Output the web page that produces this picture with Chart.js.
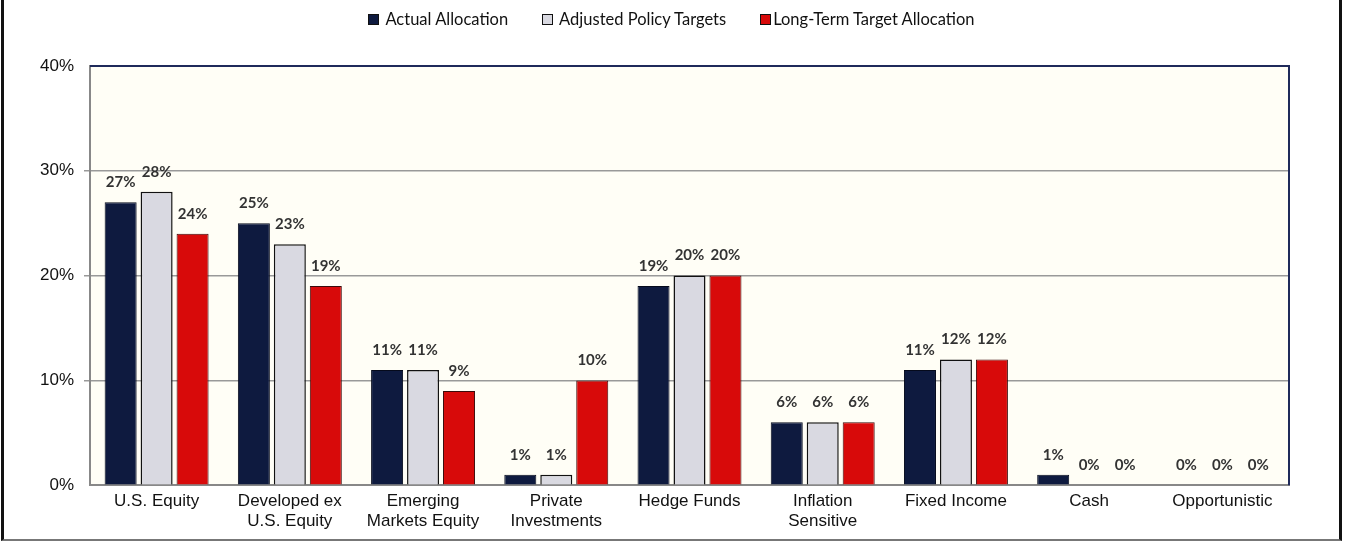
<!DOCTYPE html>
<html>
<head>
<meta charset="utf-8">
<script src="https://cdn.jsdelivr.net/npm/chart.js@4.4.1/dist/chart.umd.min.js"></script>
<style>
  html, body { margin: 0; padding: 0; background: #fff; }
  #frame {
    position: absolute; left: 1px; top: 0; width: 1335px; height: 539px;
    border-left: 3px solid #111; border-right: 3px solid #111; border-bottom: 2px solid #777;
  }
  #wrap { position: absolute; left: 0; top: 0; width: 1335px; height: 539px; }
  #legend {
    position: absolute; left: 0; top: 9px; width: 1335px; text-align: center;
    font: 16.5px Lato, "Open Sans", sans-serif; color: #111; z-index: 2;
  }
  #legend span.item { display: inline-block; margin: 0 17px; line-height: 20px; }
  #legend span.box {
    display: inline-block; width: 9px; height: 9px; margin-right: 6px; vertical-align: 0px;
    border: 1.5px solid #111;
  }
  #legend span.item:last-child span.box { margin-right: 2px; }
</style>
</head>
<body>
<div id="frame">
  <div id="legend"></div>
  <div id="wrap"><canvas id="allocChart"></canvas></div>
</div>
<script>
const categories = [
  'U.S. Equity', ['Developed ex', 'U.S. Equity'], ['Emerging', 'Markets Equity'],
  ['Private', 'Investments'], 'Hedge Funds', ['Inflation', 'Sensitive'],
  'Fixed Income', 'Cash', 'Opportunistic'
];
const seriesNames = ['Actual Allocation', 'Adjusted Policy Targets', 'Long-Term Target Allocation'];
const actualAllocation = [27, 25, 11, 1, 19, 6, 11, 1, 0];
const adjustedPolicyTargets = [28, 23, 11, 1, 20, 6, 12, 0, 0];
const longTermTarget = [24, 19, 9, 10, 20, 6, 12, 0, 0];
const yTicks = [0, 10, 20, 30, 40];

const plotDecor = {
  id: 'plotDecor',
  beforeDraw(chart) {
    const a = chart.chartArea, ctx = chart.ctx;
    ctx.save();
    ctx.fillStyle = '#fffef6';
    ctx.fillRect(a.left, a.top, a.right - a.left, a.bottom - a.top);
    ctx.restore();
  },
  afterDraw(chart) {
    const a = chart.chartArea, ctx = chart.ctx;
    ctx.save();
    ctx.strokeStyle = '#1f2a5a';
    ctx.lineWidth = 2;
    ctx.beginPath();
    ctx.moveTo(a.left, a.top);
    ctx.lineTo(a.right, a.top);
    ctx.lineTo(a.right, a.bottom);
    ctx.stroke();
    // value labels above each bar
    ctx.font = 'bold 15px Lato, "Open Sans", sans-serif';
    ctx.fillStyle = '#333';
    ctx.textAlign = 'center';
    ctx.textBaseline = 'middle';
    chart.data.datasets.forEach((ds, i) => {
      chart.getDatasetMeta(i).data.forEach((bar, j) => {
        ctx.fillText(ds.data[j] + '%', bar.x, bar.y - 20);
      });
    });
    ctx.restore();
  }
};

const chart = new Chart(document.getElementById('allocChart'), {
  type: 'bar',
  data: {
    labels: categories,
    datasets: [
      { label: seriesNames[0], data: actualAllocation, backgroundColor: '#0e1a3f',
        borderColor: '#050a1c', borderWidth: 1 },
      { label: seriesNames[1], data: adjustedPolicyTargets, backgroundColor: '#d9d9e1',
        borderColor: '#111', borderWidth: 1.5 },
      { label: seriesNames[2], data: longTermTarget, backgroundColor: '#d80a0a',
        borderColor: '#3a0a0a', borderWidth: 1 }
    ]
  },
  options: {
    responsive: true,
    maintainAspectRatio: false,
    animation: false,
    layout: { padding: { left: 2, right: 50, top: 66, bottom: 1 } },
    datasets: { bar: { categoryPercentage: 0.81, barPercentage: 0.89 } },
    plugins: {
      tooltip: { enabled: false },
      legend: { display: false }
    },
    scales: {
      x: {
        grid: { display: false, drawTicks: false },
        border: { color: '#888', width: 2 },
        ticks: { color: '#111', padding: 6, font: { size: 17, family: '"Liberation Sans", Arial, sans-serif' } }
      },
      y: {
        min: 0, max: 40,
        afterFit(scale) { scale.width = 84; },
        afterBuildTicks(scale) { scale.ticks = yTicks.map(v => ({ value: v })); },
        grid: {
          color: ctx => (ctx.tick && (ctx.tick.value === 40 || ctx.tick.value === 0)) ? 'rgba(0,0,0,0)' : '#999',
          lineWidth: 1.5, tickLength: 6
        },
        border: { color: '#888', width: 2 },
        ticks: {
          color: '#111', padding: 10,
          font: { size: 17, family: '"Liberation Sans", Arial, sans-serif' },
          callback: v => v + '%'
        }
      }
    }
  },
  plugins: [plotDecor]
});

// legend built from the chart's datasets
const legendEl = document.getElementById('legend');
legendEl.innerHTML = chart.data.datasets.map(ds =>
  `<span class="item"><span class="box" style="background:${ds.backgroundColor}"></span>${ds.label}</span>`
).join('');
</script>
</body>
</html>
